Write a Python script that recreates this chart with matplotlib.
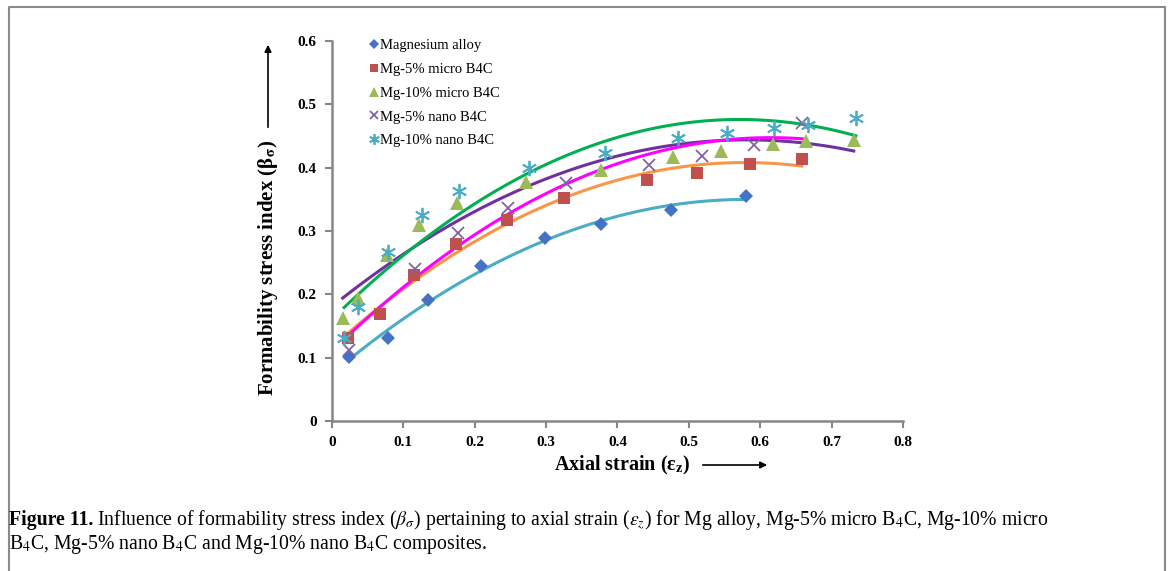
import numpy as np
import matplotlib.pyplot as plt
from matplotlib.patches import FancyArrowPatch

# data
mg_x = [0.024, 0.078, 0.134, 0.209, 0.298, 0.377, 0.475, 0.580]
mg_y = [0.101, 0.131, 0.191, 0.245, 0.289, 0.311, 0.333, 0.355]

mi5_x = [0.022, 0.067, 0.115, 0.174, 0.245, 0.325, 0.441, 0.511, 0.585, 0.658]
mi5_y = [0.131, 0.169, 0.231, 0.280, 0.318, 0.352, 0.381, 0.392, 0.406, 0.414]

mi10_x = [0.015, 0.037, 0.077, 0.122, 0.175, 0.272, 0.377, 0.478, 0.545, 0.618, 0.664, 0.731]
mi10_y = [0.163, 0.194, 0.262, 0.310, 0.344, 0.378, 0.396, 0.417, 0.427, 0.438, 0.442, 0.444]

na5_x = [0.024, 0.116, 0.177, 0.246, 0.328, 0.444, 0.519, 0.591, 0.659]
na5_y = [0.112, 0.240, 0.297, 0.337, 0.376, 0.404, 0.419, 0.436, 0.471]

na10_x = [0.017, 0.037, 0.078, 0.126, 0.178, 0.276, 0.382, 0.485, 0.553, 0.620, 0.667, 0.734]
na10_y = [0.131, 0.180, 0.267, 0.325, 0.363, 0.400, 0.423, 0.447, 0.455, 0.463, 0.468, 0.479]

labels = ["Magnesium alloy", "Mg-5% micro B4C", "Mg-10% micro B4C",
          "Mg-5% nano B4C", "Mg-10% nano B4C"]
xticks = [0, 0.1, 0.2, 0.3, 0.4, 0.5, 0.6, 0.7, 0.8]
yticks = [0, 0.1, 0.2, 0.3, 0.4, 0.5, 0.6]

# marker, marker colour, size, trend line colour
series = [
    (mg_x, mg_y, 'D', '#4472C4', 7, '#4BACC6'),
    (mi5_x, mi5_y, 's', '#C0504D', 8.5, '#F79646'),
    (mi10_x, mi10_y, '^', '#9BBB59', 9.5, '#7030A0'),
    (na5_x, na5_y, 'x', '#8064A2', 9, '#FF00FF'),
    (na10_x, na10_y, (6, 2, 0), '#4BACC6', 11, '#00B050'),
]

plt.rcParams['font.family'] = ['Liberation Serif', 'DejaVu Serif']
plt.rcParams['mathtext.fontset'] = 'stix'

fig = plt.figure(figsize=(11.68, 5.71), dpi=100)
ax = fig.add_axes([0.2842, 0.2627, 0.4889, 0.6655])

# quadratic trend lines (Excel style)
for x, y, m, c, ms, lc in series:
    p = np.polyfit(x, y, 2)
    xs = np.linspace(min(x), max(x), 100)
    ax.plot(xs, np.polyval(p, xs), color=lc, lw=2.2, zorder=2)

for (x, y, m, c, ms, lc), lab in zip(series, labels):
    if m == 'x' or isinstance(m, tuple):
        kw = dict(markeredgewidth=1.3)
    else:
        kw = dict(markeredgewidth=0)
    ax.plot(x, y, linestyle='none', marker=m, color=c, markersize=ms,
            label=lab, zorder=3, **kw)

ax.set_xlim(0, 0.8)
ax.set_ylim(0, 0.6)
ax.set_xticks(xticks)
ax.set_yticks(yticks)
ax.set_xticklabels(['0'] + [f'{v:.1f}' for v in xticks[1:]])
ax.set_yticklabels(['0'] + [f'{v:.1f}' for v in yticks[1:]])
for lab in ax.get_xticklabels() + ax.get_yticklabels():
    lab.set_fontweight('bold')
    lab.set_fontsize(11)
ax.tick_params(direction='out', length=5, width=1.5, color='#868686', pad=6)
for s in ['top', 'right']:
    ax.spines[s].set_visible(False)
for s in ['left', 'bottom']:
    ax.spines[s].set_color('#868686')
    ax.spines[s].set_linewidth(1.8)

leg = ax.legend(loc='upper left', bbox_to_anchor=(0.055, 1.02), frameon=False,
                fontsize=10.5, handlelength=0.6, handletextpad=0.15,
                labelspacing=0.72, borderaxespad=0, markerscale=0.7)

# axis titles with arrows
fig.text(0.5325, 0.184, 'Axial strain (\u03b5$_\\mathbf{z}$)', ha='center', va='center',
         fontsize=14.5, fontweight='bold')
fig.add_artist(FancyArrowPatch((700 / 1168, 1 - 465 / 571), (770 / 1168, 1 - 465 / 571),
                               transform=fig.transFigure, arrowstyle='-|>',
                               mutation_scale=10, color='black', lw=1.2))
fig.text(0.2295, 1 - 268 / 571, 'Formability stress index (\u03b2$_\\mathbf{\u03c3}$)',
         ha='center', va='center', rotation=90, fontsize=15, fontweight='bold')
fig.add_artist(FancyArrowPatch((268 / 1168, 1 - 130 / 571), (268 / 1168, 1 - 42 / 571),
                               transform=fig.transFigure, arrowstyle='-|>',
                               mutation_scale=10, color='black', lw=1.2))

# caption: bold lead-in, then regular text placed right after it
cap_size = 14.2
lead = fig.text(9 / 1168, 1 - 520 / 571, 'Figure 11.', ha='left', va='center',
                fontsize=cap_size, fontweight='bold')
r = fig.canvas.get_renderer()
bb = lead.get_window_extent(renderer=r)
fig.text((bb.x1 + 4) / 1168, 1 - 520 / 571,
         r'Influence of formability stress index ($\beta_\sigma$) pertaining to axial strain '
         r'($\varepsilon_z$) for Mg alloy, Mg-5% micro B$_4$C, Mg-10% micro',
         ha='left', va='center', fontsize=cap_size)
fig.text(9 / 1168, 1 - 545 / 571,
         r'B$_4$C, Mg-5% nano B$_4$C and Mg-10% nano B$_4$C composites.',
         ha='left', va='center', fontsize=cap_size)

# frame around the figure box
fig.add_artist(plt.Line2D([8.5 / 1168, 8.5 / 1168, 1165 / 1168, 1165 / 1168],
                          [0, 1 - 7 / 571, 1 - 7 / 571, 0],
                          transform=fig.transFigure, color='#8a8a8a', lw=1.5))

fig.savefig('out.png', dpi=100)
